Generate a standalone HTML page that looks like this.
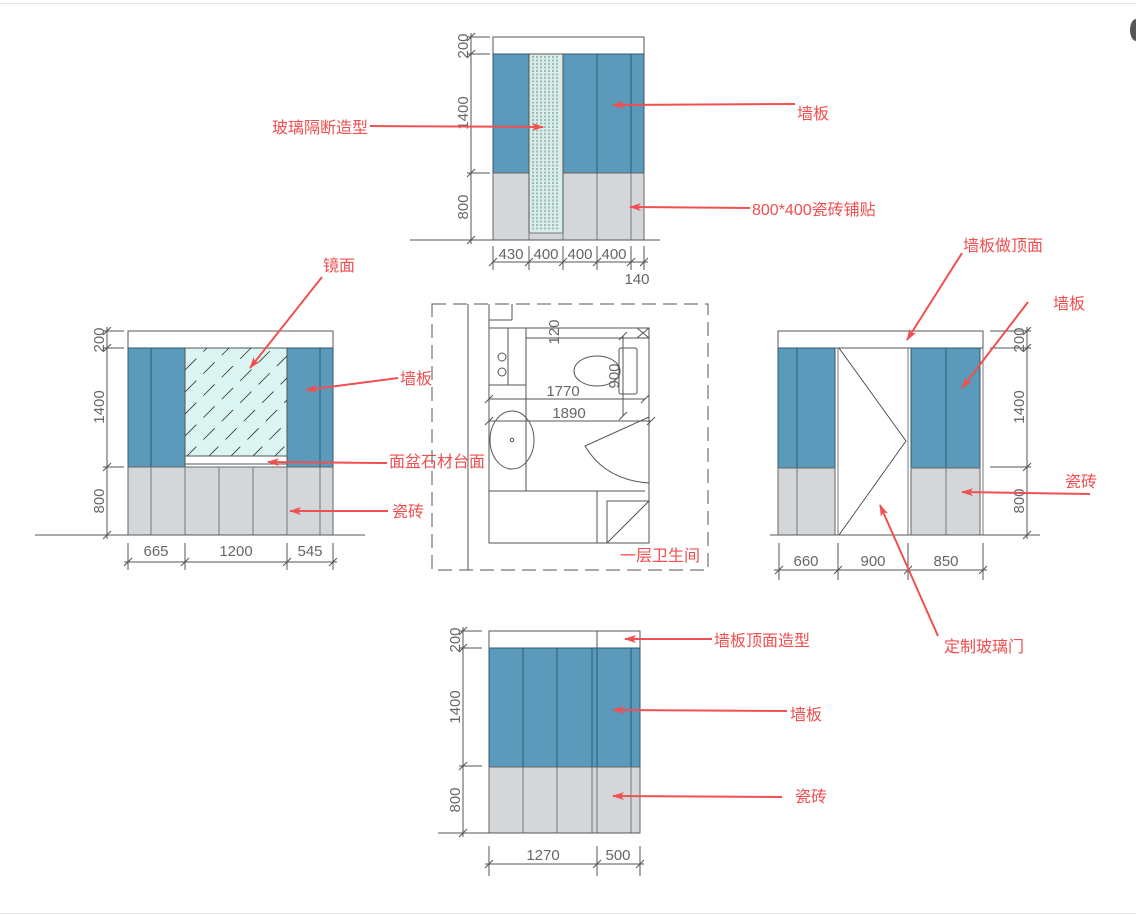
<!DOCTYPE html>
<html><head><meta charset="utf-8"><style>
html,body{margin:0;padding:0;background:#fff;width:1136px;height:916px;overflow:hidden}
svg{display:block}
.lb{font-family:"Liberation Sans","Noto Sans CJK SC",sans-serif;font-size:16px;fill:#f04e4e}
.dm{font-family:"Liberation Sans",sans-serif;font-size:15px;fill:#666}
.ln{stroke:#555;stroke-width:1;fill:none}
.bl{fill:#5b9aba;stroke:#2c5a74;stroke-width:1}
.gr{fill:#d3d7da;stroke:#666;stroke-width:1}
.ar{stroke:#f05050;stroke-width:2;fill:none;marker-end:url(#ah)}
</style></head><body>
<svg width="1136" height="916" viewBox="0 0 1136 916" xmlns="http://www.w3.org/2000/svg">
<defs>
<marker id="ah" markerWidth="12" markerHeight="8" refX="11" refY="4" orient="auto" markerUnits="userSpaceOnUse">
<path d="M0,0 L12,4 L0,8 L3,4 Z" fill="#f05050"/></marker>
<clipPath id="mc"><rect x="185" y="348" width="102" height="108"/></clipPath>
</defs>
<line x1="0" y1="3.5" x2="1136" y2="3.5" stroke="#e6e6e6"/>
<line x1="0" y1="913.5" x2="1136" y2="913.5" stroke="#e6e6e6"/>
<ellipse cx="1136" cy="30" rx="6" ry="11" fill="#555"/>

<!-- TOP ELEVATION -->
<rect x="493" y="37" width="151" height="17" fill="#fff" stroke="#555"/>
<rect x="493" y="54" width="151" height="119" class="bl"/>
<rect x="493" y="173" width="151" height="67" class="gr"/>
<g stroke="#2c5a74"><line x1="597" y1="54" x2="597" y2="173"/><line x1="631" y1="54" x2="631" y2="173"/></g>
<g stroke="#777"><line x1="597" y1="173" x2="597" y2="240"/><line x1="631" y1="173" x2="631" y2="240"/></g>
<rect x="529" y="54" width="34" height="179" fill="#d8ece8" stroke="#555"/>
<g stroke="#6a8a84" stroke-dasharray="2 1.5"><line x1="533" y1="56" x2="533" y2="231"/><line x1="537" y1="56" x2="537" y2="231"/><line x1="541" y1="56" x2="541" y2="231"/><line x1="545" y1="56" x2="545" y2="231"/><line x1="549" y1="56" x2="549" y2="231"/><line x1="553" y1="56" x2="553" y2="231"/><line x1="557" y1="56" x2="557" y2="231"/></g>
<rect x="529" y="233" width="34" height="7" fill="#d3d7da" stroke="#777"/>
<line x1="410" y1="240" x2="660" y2="240" class="ln"/>
<g class="ln"><line x1="471" y1="33" x2="471" y2="244"/><line x1="467" y1="37" x2="490" y2="37"/><line x1="467" y1="54" x2="490" y2="54"/><line x1="467" y1="173" x2="490" y2="173"/>
<path d="M467,41 l8,-8 M467,58 l8,-8 M467,177 l8,-8 M467,244 l8,-8"/>
<line x1="493" y1="262" x2="648" y2="262"/><path d="M493,246 v24 M529,246 v24 M563,246 v24 M597,246 v24 M631,246 v24 M644,246 v24 M489,266 l8,-8 M525,266 l8,-8 M559,266 l8,-8 M593,266 l8,-8 M627,266 l8,-8 M640,266 l8,-8"/></g>
<text class="dm" transform="translate(468,46) rotate(-90)" text-anchor="middle">200</text>
<text class="dm" transform="translate(468,113) rotate(-90)" text-anchor="middle">1400</text>
<text class="dm" transform="translate(468,207) rotate(-90)" text-anchor="middle">800</text>
<text class="dm" x="511" y="259" text-anchor="middle">430</text>
<text class="dm" x="546" y="259" text-anchor="middle">400</text>
<text class="dm" x="580" y="259" text-anchor="middle">400</text>
<text class="dm" x="614" y="259" text-anchor="middle">400</text>
<text class="dm" x="637" y="284" text-anchor="middle">140</text>
<text class="lb" x="272" y="133">玻璃隔断造型</text>
<line x1="370" y1="126" x2="543" y2="127" class="ar"/>
<text class="lb" x="797" y="119">墙板</text>
<line x1="795" y1="104" x2="613" y2="105" class="ar"/>
<text class="lb" x="752" y="215">800*400瓷砖铺贴</text>
<line x1="750" y1="208" x2="630" y2="207" class="ar"/>

<!-- LEFT ELEVATION -->
<rect x="128" y="331" width="205" height="17" fill="#fff" stroke="#555"/>
<rect x="128" y="348" width="57" height="119" class="bl"/>
<rect x="287" y="348" width="46" height="119" class="bl"/>
<g stroke="#2c5a74"><line x1="151" y1="348" x2="151" y2="467"/><line x1="320" y1="348" x2="320" y2="467"/></g>
<rect x="185" y="348" width="102" height="108" fill="#daf5f2" stroke="#555"/>
<g clip-path="url(#mc)" stroke="#333" stroke-dasharray="16 10" stroke-width="0.8">
<line x1="185" y1="370" x2="207" y2="348"/><line x1="185" y1="392" x2="229" y2="348"/><line x1="185" y1="414" x2="251" y2="348"/><line x1="185" y1="436" x2="273" y2="348"/><line x1="185" y1="458" x2="295" y2="348"/><line x1="207" y1="458" x2="317" y2="348"/><line x1="229" y1="458" x2="339" y2="348"/><line x1="251" y1="458" x2="361" y2="348"/><line x1="273" y1="458" x2="383" y2="348"/></g>
<rect x="185" y="456" width="102" height="8" fill="#fff" stroke="#555"/>
<rect x="128" y="467" width="205" height="68" class="gr"/>
<g stroke="#777"><line x1="151" y1="467" x2="151" y2="535"/><line x1="185" y1="467" x2="185" y2="535"/><line x1="219" y1="467" x2="219" y2="535"/><line x1="253" y1="467" x2="253" y2="535"/><line x1="287" y1="467" x2="287" y2="535"/><line x1="320" y1="467" x2="320" y2="535"/></g>
<line x1="35" y1="535" x2="365" y2="535" class="ln"/>
<g class="ln"><line x1="107" y1="327" x2="107" y2="539"/><line x1="103" y1="331" x2="124" y2="331"/><line x1="103" y1="348" x2="124" y2="348"/><line x1="103" y1="467" x2="124" y2="467"/>
<path d="M103,335 l8,-8 M103,352 l8,-8 M103,471 l8,-8 M103,539 l8,-8"/>
<line x1="124" y1="562" x2="337" y2="562"/><path d="M128,543 v27 M185,543 v27 M287,543 v27 M333,543 v27 M124,566 l8,-8 M181,566 l8,-8 M283,566 l8,-8 M329,566 l8,-8"/></g>
<text class="dm" transform="translate(104,340) rotate(-90)" text-anchor="middle">200</text>
<text class="dm" transform="translate(104,407) rotate(-90)" text-anchor="middle">1400</text>
<text class="dm" transform="translate(104,501) rotate(-90)" text-anchor="middle">800</text>
<text class="dm" x="156" y="556" text-anchor="middle">665</text>
<text class="dm" x="236" y="556" text-anchor="middle">1200</text>
<text class="dm" x="310" y="556" text-anchor="middle">545</text>
<text class="lb" x="323" y="271">镜面</text>
<line x1="322" y1="277" x2="250" y2="368" class="ar"/>
<text class="lb" x="400" y="384">墙板</text>
<line x1="398" y1="378" x2="306" y2="390" class="ar"/>
<text class="lb" x="389" y="467">面盆石材台面</text>
<line x1="387" y1="463" x2="268" y2="462" class="ar"/>
<text class="lb" x="392" y="517">瓷砖</text>
<line x1="388" y1="511" x2="290" y2="511" class="ar"/>

<!-- PLAN -->
<rect x="432" y="304" width="276" height="266" fill="none" stroke="#555" stroke-dasharray="14 7"/>
<g class="ln">
<line x1="468" y1="304" x2="468" y2="570"/>
<line x1="489" y1="304" x2="489" y2="328"/><line x1="512" y1="304" x2="512" y2="320"/><line x1="489" y1="320" x2="512" y2="320"/>
<rect x="489" y="328" width="160" height="215"/>
<line x1="526" y1="338" x2="649" y2="338"/>
<line x1="526" y1="328" x2="526" y2="491"/>
<line x1="489" y1="385" x2="526" y2="385"/><line x1="508" y1="328" x2="508" y2="385"/>
<circle cx="502" cy="357" r="4"/><circle cx="502" cy="372" r="4"/>
<ellipse cx="597" cy="371" rx="23" ry="15"/>
<rect x="619" y="348" width="18" height="46" rx="2"/>
<path d="M637,328 l12,10 M649,328 l-12,10"/>
<line x1="489" y1="399" x2="645" y2="399"/>
<line x1="489" y1="421" x2="651" y2="421"/>
<line x1="623" y1="336" x2="623" y2="416"/>
<path d="M485,403 l8,-8 M641,403 l8,-8 M485,425 l8,-8 M647,425 l8,-8 M619,340 l8,-8 M619,420 l8,-8"/>
<ellipse cx="512" cy="440" rx="22" ry="29"/><circle cx="512" cy="440" r="1.7"/>
<path d="M649,417 L585,446 Q605,480 649,483"/>
<line x1="489" y1="491" x2="645" y2="491"/>
<line x1="597" y1="491" x2="597" y2="543"/>
<rect x="607" y="501" width="42" height="42"/><line x1="607" y1="543" x2="649" y2="501"/>
</g>
<text class="dm" transform="translate(559,332) rotate(-90)" text-anchor="middle">120</text>
<text class="dm" transform="translate(619,376) rotate(-90)" text-anchor="middle">900</text>
<text class="dm" x="563" y="396" text-anchor="middle">1770</text>
<text class="dm" x="569" y="418" text-anchor="middle">1890</text>
<text class="lb" x="620" y="561">一层卫生间</text>

<!-- RIGHT ELEVATION -->
<rect x="778" y="331" width="205" height="17" fill="#fff" stroke="#555"/>
<rect x="778" y="348" width="57" height="120" class="bl"/>
<rect x="911" y="348" width="69" height="120" class="bl"/>
<g stroke="#2c5a74"><line x1="797" y1="348" x2="797" y2="468"/><line x1="946" y1="348" x2="946" y2="468"/></g>
<rect x="778" y="468" width="57" height="67" class="gr"/>
<rect x="911" y="468" width="69" height="67" class="gr"/>
<g stroke="#777"><line x1="797" y1="468" x2="797" y2="535"/><line x1="946" y1="468" x2="946" y2="535"/><line x1="983" y1="348" x2="983" y2="535"/><line x1="838" y1="348" x2="838" y2="535"/><line x1="908" y1="348" x2="908" y2="535"/></g>
<path d="M839,348 L906,441 L839,535" fill="none" stroke="#333" stroke-width="0.8"/>
<line x1="770" y1="535" x2="1040" y2="535" class="ln"/>
<g class="ln"><line x1="1027" y1="327" x2="1027" y2="539"/><line x1="990" y1="331" x2="1031" y2="331"/><line x1="990" y1="348" x2="1031" y2="348"/><line x1="990" y1="467" x2="1031" y2="467"/>
<path d="M1023,335 l8,-8 M1023,352 l8,-8 M1023,471 l8,-8 M1023,539 l8,-8"/>
<line x1="774" y1="570" x2="987" y2="570"/><path d="M779,543 v37 M838,543 v37 M908,543 v37 M983,543 v37 M775,574 l8,-8 M834,574 l8,-8 M904,574 l8,-8 M979,574 l8,-8"/></g>
<text class="dm" transform="translate(1024,340) rotate(-90)" text-anchor="middle">200</text>
<text class="dm" transform="translate(1024,407) rotate(-90)" text-anchor="middle">1400</text>
<text class="dm" transform="translate(1024,501) rotate(-90)" text-anchor="middle">800</text>
<text class="dm" x="806" y="566" text-anchor="middle">660</text>
<text class="dm" x="873" y="566" text-anchor="middle">900</text>
<text class="dm" x="946" y="566" text-anchor="middle">850</text>
<text class="lb" x="963" y="251">墙板做顶面</text>
<line x1="962" y1="253" x2="907" y2="340" class="ar"/>
<text class="lb" x="1053" y="309">墙板</text>
<line x1="1028" y1="302" x2="962" y2="388" class="ar"/>
<text class="lb" x="1065" y="487">瓷砖</text>
<line x1="1090" y1="494" x2="962" y2="492" class="ar"/>
<text class="lb" x="944" y="652">定制玻璃门</text>
<line x1="938" y1="636" x2="880" y2="505" class="ar"/>

<!-- BOTTOM ELEVATION -->
<rect x="489" y="631" width="151" height="17" fill="#fff" stroke="#555"/>
<line x1="597" y1="631" x2="597" y2="648" stroke="#555"/>
<rect x="489" y="648" width="151" height="119" class="bl"/>
<rect x="489" y="767" width="151" height="66" class="gr"/>
<g stroke="#2c5a74"><line x1="523" y1="648" x2="523" y2="767"/><line x1="557" y1="648" x2="557" y2="767"/><line x1="592" y1="648" x2="592" y2="767"/><line x1="597" y1="648" x2="597" y2="767"/><line x1="631" y1="648" x2="631" y2="767"/></g>
<g stroke="#777"><line x1="523" y1="767" x2="523" y2="833"/><line x1="557" y1="767" x2="557" y2="833"/><line x1="592" y1="767" x2="592" y2="833"/><line x1="597" y1="767" x2="597" y2="833"/><line x1="631" y1="767" x2="631" y2="833"/></g>
<line x1="438" y1="833" x2="640" y2="833" class="ln"/>
<g class="ln"><line x1="463" y1="627" x2="463" y2="837"/><line x1="459" y1="631" x2="482" y2="631"/><line x1="459" y1="648" x2="482" y2="648"/><line x1="459" y1="766" x2="482" y2="766"/>
<path d="M459,635 l8,-8 M459,652 l8,-8 M459,770 l8,-8 M459,837 l8,-8"/>
<line x1="485" y1="864" x2="644" y2="864"/><path d="M489,846 v30 M597,846 v30 M640,846 v30 M485,868 l8,-8 M593,868 l8,-8 M636,868 l8,-8"/></g>
<text class="dm" transform="translate(460,640) rotate(-90)" text-anchor="middle">200</text>
<text class="dm" transform="translate(460,707) rotate(-90)" text-anchor="middle">1400</text>
<text class="dm" transform="translate(460,800) rotate(-90)" text-anchor="middle">800</text>
<text class="dm" x="543" y="860" text-anchor="middle">1270</text>
<text class="dm" x="618" y="860" text-anchor="middle">500</text>
<text class="lb" x="714" y="646">墙板顶面造型</text>
<line x1="712" y1="639" x2="625" y2="639" class="ar"/>
<text class="lb" x="790" y="720">墙板</text>
<line x1="787" y1="711" x2="613" y2="710" class="ar"/>
<text class="lb" x="795" y="802">瓷砖</text>
<line x1="782" y1="797" x2="613" y2="796" class="ar"/>
</svg>
</body></html>
